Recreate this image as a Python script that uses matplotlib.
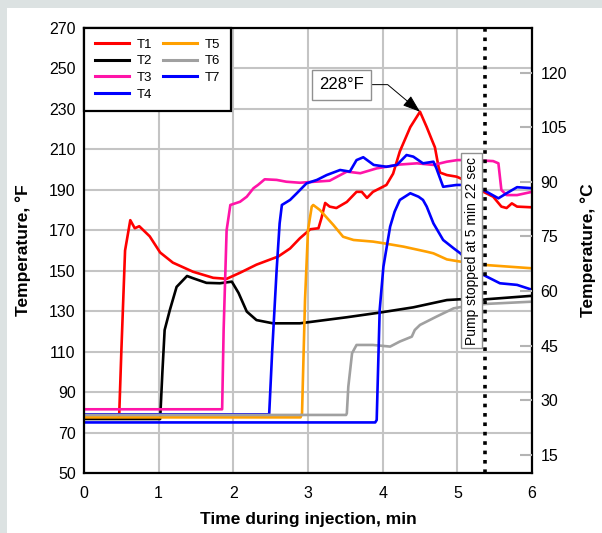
import matplotlib
matplotlib.use("Agg")
import matplotlib.pyplot as plt
from matplotlib.patches import Rectangle

plt.rcParams['font.family'] = ['Liberation Sans', 'DejaVu Sans']

# ── data (time in min, temperature in °F) ────────────────────────────────────
t1_x = [0, 0.47, 0.5, 0.55, 0.62, 0.68, 0.74, 0.88, 1.02, 1.19, 1.46, 1.73, 1.91, 2.09,
        2.31, 2.49, 2.6, 2.76, 2.89, 3.03, 3.14, 3.18, 3.23, 3.29, 3.38, 3.52, 3.65,
        3.72, 3.79, 3.87, 4.05, 4.14, 4.23, 4.37, 4.5, 4.59, 4.66, 4.7, 4.75, 4.77,
        4.86, 4.99, 5.04, 5.35, 5.48, 5.59, 5.66, 5.73, 5.8, 5.97, 6.0]
t1_y = [77, 77, 110, 160, 175, 171, 172, 167, 159, 154, 149.5, 146.5, 146, 149,
        153, 155.5, 157, 161, 166, 170.5, 171, 176, 183.5, 181.7, 181, 184, 189,
        189, 186, 189, 192.4, 198, 209, 221, 228.6, 221, 214.6, 211, 201, 198.5,
        197.3, 196.5, 195.7, 189, 186.6, 181.7, 181, 183.3, 181.7, 181.4, 181.4]

t2_x = [0, 1.02, 1.05, 1.08, 1.15, 1.24, 1.38, 1.46, 1.64, 1.82, 1.98, 2.07, 2.18,
        2.31, 2.53, 2.89, 3.52, 3.96, 4.41, 4.86, 5.04, 5.13, 5.39, 6.0]
t2_y = [76.7, 76.7, 100, 120.7, 130.6, 142, 147.4, 146.3, 144, 143.8, 144.6, 139, 129.8,
        125.6, 124, 124, 127, 129.3, 131.9, 135.5, 135.9, 134.7, 135.9, 137.6]

t3_x = [0, 1.85, 1.87, 1.91, 1.96, 2.09, 2.18, 2.27, 2.33, 2.42, 2.58, 2.71, 2.89,
        3.29, 3.52, 3.7, 3.92, 4.23, 4.46, 4.68, 4.86, 5.0, 5.21, 5.48, 5.55, 5.59,
        5.66, 5.8, 6.0]
t3_y = [81.5, 81.5, 120.7, 170, 182.5, 184.1, 186.6, 190.8, 192.4, 195.2, 194.9, 194, 193.5,
        194.5, 199, 198.2, 200.6, 202.5, 203.1, 202.3, 203.9, 204.7, 204.7, 204.2, 203.1,
        189.9, 187.4, 187.4, 189]

t4_x = [0, 2.48, 2.52, 2.58, 2.62, 2.65, 2.76, 2.85, 2.98, 3.12, 3.25, 3.43, 3.56,
        3.65, 3.74, 3.88, 4.05, 4.19, 4.32, 4.41, 4.54, 4.68, 4.72, 4.81, 4.99, 5.08,
        5.35, 5.55, 5.66, 5.8, 6.0]
t4_y = [79, 79, 110, 150.4, 173.4, 182.5, 185, 188.3, 193.2, 194.9, 197.3, 199.8, 199,
        204.7, 206.1, 202.3, 201.4, 202.3, 207.2, 206.4, 203.1, 203.9, 200.6, 191.5, 192.4,
        192.4, 189.9, 185.8, 188.3, 191.3, 190.8]

t5_x = [0, 2.9, 2.92, 2.96, 3.0, 3.05, 3.07, 3.16, 3.34, 3.47, 3.61, 3.87, 4.01, 4.28,
        4.59, 4.68, 4.86, 5.04, 5.39, 6.0]
t5_y = [77.5, 77.5, 79.5, 135.5, 170.1, 181.7, 182.5, 180, 172.6, 166.8, 165.2, 164.4,
        163.6, 161.9, 159.4, 158.6, 155.6, 154.5, 152.8, 151.2]

t6_x = [0, 3.51, 3.52, 3.54, 3.59, 3.65, 3.87, 4.1, 4.23, 4.39, 4.43, 4.5, 4.72, 4.95,
        5.13, 5.39, 6.0]
t6_y = [78.7, 78.7, 79.5, 92.7, 109.2, 113.3, 113.3, 112.5, 115, 117.4, 120.7, 123.2,
        127.3, 131.4, 132.6, 133.6, 134.7]

t7_x = [0, 3.9, 3.92, 3.96, 4.01, 4.1, 4.16, 4.23, 4.37, 4.48, 4.54, 4.59, 4.68, 4.81,
        4.95, 5.04, 5.35, 5.57, 5.8, 6.0]
t7_y = [75, 75, 76.2, 130.6, 152, 171.8, 179.2, 185, 188.3, 186.6, 185, 181.7, 173.4,
        165.2, 161.1, 158.6, 147.9, 143.8, 143, 140.6]

series = [
    ("T1", t1_x, t1_y, "#ff0000"),
    ("T2", t2_x, t2_y, "#000000"),
    ("T3", t3_x, t3_y, "#ff14a8"),
    ("T4", t4_x, t4_y, "#0000ff"),
    ("T5", t5_x, t5_y, "#ffa000"),
    ("T6", t6_x, t6_y, "#a0a0a0"),
    ("T7", t7_x, t7_y, "#0000ff"),
]

peak_x, peak_y = 4.5, 228.6
pump_stop = 5 + 22 / 60
c_ticks = [15, 30, 45, 60, 75, 90, 105, 120]

# ── figure ───────────────────────────────────────────────────────────────────
fig = plt.figure(figsize=(6.02, 5.33), dpi=100, facecolor="#dce2e2")
fig.patches.append(Rectangle((7 / 602, 0), 1, 1 - 8 / 533, transform=fig.transFigure,
                             facecolor="white", edgecolor="none", zorder=-10))
ax = fig.add_axes([84 / 602, 1 - 473 / 533, 448 / 602, 445 / 533])

for name, xs, ys, col in series:
    ax.plot(xs, ys, color=col, lw=1.9, label=name, solid_joinstyle="round")

ax.set_xlim(0, 6)
ax.set_ylim(50, 270)
ax.set_xticks(range(0, 7))
ax.set_yticks(range(50, 271, 20))
ax.grid(True, color="#c4c4c4", lw=1.5)
ax.set_axisbelow(True)
ax.tick_params(axis="both", length=0, labelsize=11.5)
ax.tick_params(axis="x", pad=9)
ax.tick_params(axis="y", pad=6)
for sp in ax.spines.values():
    sp.set_linewidth(1.6)

ax.set_xlabel("Time during injection, min", fontsize=12.5, fontweight="bold", labelpad=8)
ax.set_ylabel("Temperature, °F", fontsize=12.5, fontweight="bold", labelpad=13)

# pump stop marker
ax.axvline(pump_stop, color="black", lw=2.6, linestyle=(0, (1, 1.6)), dash_capstyle="butt")
ax.text(5.19, 159.8, "Pump stopped at 5 min 22 sec", rotation=90, fontsize=10,
        ha="center", va="center",
        bbox=dict(boxstyle="square,pad=0.25", facecolor="white", edgecolor="#909090", lw=1))

# peak annotation
ax.annotate("228°F", xy=(peak_x, peak_y), xytext=(3.45, 242), fontsize=12,
            ha="center", va="center",
            bbox=dict(boxstyle="square,pad=0.45", facecolor="white", edgecolor="#909090", lw=1),
            arrowprops=dict(arrowstyle="-|>,head_length=0.9,head_width=0.32",
                            connectionstyle="angle,angleA=0,angleB=140,rad=0",
                            color="black", lw=0.7, shrinkA=0, shrinkB=0))

leg = ax.legend(ncol=2, loc="upper left", bbox_to_anchor=(0, 1), borderaxespad=0,
                fontsize=9.5, fancybox=False, framealpha=1, edgecolor="black",
                handlelength=2.6, handletextpad=0.6, columnspacing=0.8,
                labelspacing=0.33, borderpad=0.8)
leg.get_frame().set_linewidth(1.6)
for h in leg.get_lines():
    h.set_linewidth(2.2)

# °C axis on the right
ax2 = ax.twinx()
ax2.set_ylim((50 - 32) * 5 / 9, (270 - 32) * 5 / 9)
ax2.set_yticks(c_ticks)
ax2.tick_params(axis="y", direction="in", length=8.5, width=1.5, color="#b4b4b4",
                labelsize=11.5, pad=6)
for sp in ax2.spines.values():
    sp.set_visible(False)
ax2.set_ylabel("Temperature, °C", fontsize=12.5, fontweight="bold", labelpad=10)

fig.savefig("out.png", dpi=100, facecolor=fig.get_facecolor())
